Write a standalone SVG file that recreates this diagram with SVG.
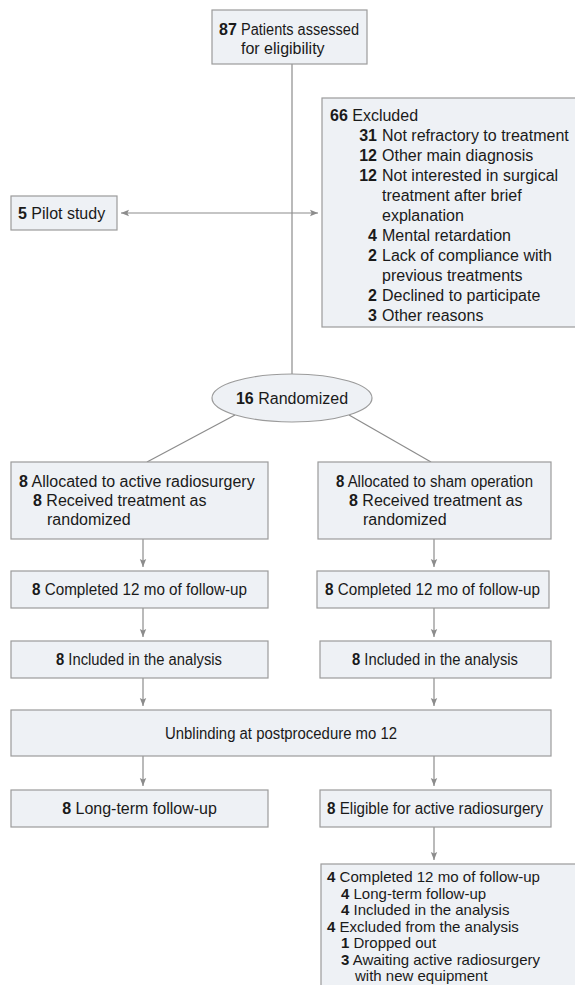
<svg xmlns="http://www.w3.org/2000/svg" width="575" height="985" viewBox="0 0 575 985">
<defs>
<style>
.box{fill:#eef1f5;stroke:#9b9b9b;stroke-width:1.2}
.ln{fill:none;stroke:#8c8c8c;stroke-width:1.2}
text{font-family:"Liberation Sans",Arial,sans-serif;font-size:16px;fill:#1a1a1a}
.b{font-weight:bold}
.c{text-anchor:middle}
.r{text-anchor:end}
.s{font-size:15px}
</style>
<marker id="ah" viewBox="0 0 10 10" refX="10" refY="5" markerWidth="8" markerHeight="8" markerUnits="userSpaceOnUse" orient="auto-start-reverse">
<path d="M0,1 L10,5 L0,9 L2,5 Z" fill="#8c8c8c"/>
</marker>
</defs>
<rect width="575" height="985" fill="#ffffff"/>

<g id="connectors">
<line class="ln" x1="292" y1="64" x2="292" y2="374"/>
<line class="ln" x1="121" y1="213" x2="318" y2="213" marker-start="url(#ah)" marker-end="url(#ah)"/>
<line class="ln" x1="235" y1="415" x2="147" y2="462"/>
<line class="ln" x1="349" y1="415" x2="431" y2="462"/>
<line class="ln" x1="143" y1="539" x2="143" y2="567" marker-end="url(#ah)"/>
<line class="ln" x1="434" y1="539" x2="434" y2="567" marker-end="url(#ah)"/>
<line class="ln" x1="143" y1="608" x2="143" y2="637" marker-end="url(#ah)"/>
<line class="ln" x1="434" y1="608" x2="434" y2="637" marker-end="url(#ah)"/>
<line class="ln" x1="143" y1="678" x2="143" y2="706" marker-end="url(#ah)"/>
<line class="ln" x1="434" y1="678" x2="434" y2="706" marker-end="url(#ah)"/>
<line class="ln" x1="143" y1="756" x2="143" y2="786" marker-end="url(#ah)"/>
<line class="ln" x1="434" y1="756" x2="434" y2="786" marker-end="url(#ah)"/>
<line class="ln" x1="434" y1="827" x2="434" y2="860" marker-end="url(#ah)"/>
</g>

<g id="assessed">
<rect class="box" x="212" y="10" width="155" height="54"/>
<text x="219" y="35"><tspan class="b">87</tspan></text>
<text x="241" y="35" textLength="118" lengthAdjust="spacingAndGlyphs">Patients assessed</text>
<text x="241" y="54">for eligibility</text>
</g>

<g id="pilot">
<rect class="box" x="11" y="196" width="106" height="34"/>
<text x="18" y="219"><tspan class="b">5</tspan> Pilot study</text>
</g>

<g id="excluded">
<rect class="box" x="322" y="98" width="260" height="229"/>
<text x="330" y="121"><tspan class="b">66</tspan> Excluded</text>
<text class="b r" x="377" y="141">31</text><text x="382" y="141">Not refractory to treatment</text>
<text class="b r" x="377" y="161">12</text><text x="382" y="161">Other main diagnosis</text>
<text class="b r" x="377" y="181">12</text><text x="382" y="181">Not interested in surgical</text>
<text x="382" y="201">treatment after brief</text>
<text x="382" y="221">explanation</text>
<text class="b r" x="377" y="241">4</text><text x="382" y="241">Mental retardation</text>
<text class="b r" x="377" y="261">2</text><text x="382" y="261">Lack of compliance with</text>
<text x="382" y="281">previous treatments</text>
<text class="b r" x="377" y="301">2</text><text x="382" y="301">Declined to participate</text>
<text class="b r" x="377" y="321">3</text><text x="382" y="321">Other reasons</text>
</g>

<g id="randomized">
<ellipse class="box" cx="292" cy="398" rx="80" ry="24"/>
<text class="c" x="292" y="404"><tspan class="b">16</tspan> Randomized</text>
</g>

<g id="alloc-active">
<rect class="box" x="11" y="462" width="257" height="77"/>
<text x="19" y="487"><tspan class="b">8</tspan> Allocated to active radiosurgery</text>
<text x="33" y="506"><tspan class="b">8</tspan> Received treatment as</text>
<text x="47" y="525">randomized</text>
</g>

<g id="alloc-sham">
<rect class="box" x="318" y="462" width="233" height="77"/>
<text x="336" y="487" textLength="197" lengthAdjust="spacingAndGlyphs"><tspan class="b">8</tspan> Allocated to sham operation</text>
<text x="349" y="506"><tspan class="b">8</tspan> Received treatment as</text>
<text x="363" y="525">randomized</text>
</g>

<g id="completed-active">
<rect class="box" x="11" y="571" width="257" height="37"/>
<text x="32" y="595" textLength="215" lengthAdjust="spacingAndGlyphs"><tspan class="b">8</tspan> Completed 12 mo of follow-up</text>
</g>

<g id="completed-sham">
<rect class="box" x="317" y="571" width="232" height="37"/>
<text x="325" y="595" textLength="215" lengthAdjust="spacingAndGlyphs"><tspan class="b">8</tspan> Completed 12 mo of follow-up</text>
</g>

<g id="included-active">
<rect class="box" x="11" y="641" width="257" height="37"/>
<text x="56" y="665" textLength="166" lengthAdjust="spacingAndGlyphs"><tspan class="b">8</tspan> Included in the analysis</text>
</g>

<g id="included-sham">
<rect class="box" x="320" y="641" width="231" height="37"/>
<text x="352" y="665" textLength="166" lengthAdjust="spacingAndGlyphs"><tspan class="b">8</tspan> Included in the analysis</text>
</g>

<g id="unblinding">
<rect class="box" x="11" y="710" width="540" height="46"/>
<text x="165" y="739" textLength="232" lengthAdjust="spacingAndGlyphs">Unblinding at postprocedure mo 12</text>
</g>

<g id="longterm">
<rect class="box" x="11" y="790" width="257" height="37"/>
<text class="c" x="139.5" y="814"><tspan class="b">8</tspan> Long-term follow-up</text>
</g>

<g id="eligible">
<rect class="box" x="320" y="790" width="231" height="37"/>
<text x="327" y="814" textLength="216" lengthAdjust="spacingAndGlyphs"><tspan class="b">8</tspan> Eligible for active radiosurgery</text>
</g>

<g id="final">
<rect class="box" x="321" y="864" width="260" height="130"/>
<text class="s" x="327" y="882" textLength="213" lengthAdjust="spacingAndGlyphs"><tspan class="b">4</tspan> Completed 12 mo of follow-up</text>
<text class="s" x="341" y="898.5"><tspan class="b">4</tspan> Long-term follow-up</text>
<text class="s" x="341" y="915"><tspan class="b">4</tspan> Included in the analysis</text>
<text class="s" x="327" y="931.5"><tspan class="b">4</tspan> Excluded from the analysis</text>
<text class="s" x="341" y="948"><tspan class="b">1</tspan> Dropped out</text>
<text class="s" x="341" y="964.5"><tspan class="b">3</tspan> Awaiting active radiosurgery</text>
<text class="s" x="355" y="981">with new equipment</text>
</g>
</svg>
